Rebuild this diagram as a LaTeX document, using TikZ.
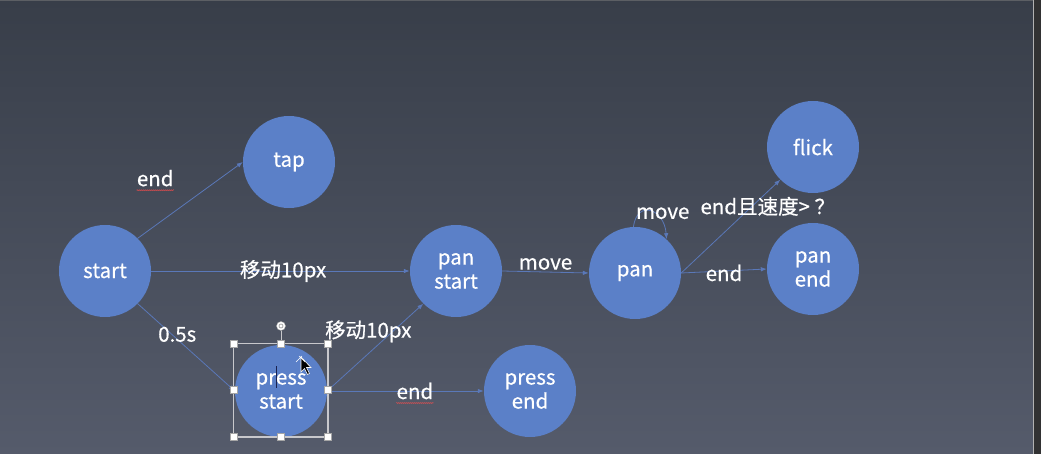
\documentclass[tikz,border=0pt]{standalone}
\usepackage{fontspec}
\setmainfont{Noto Sans CJK SC}
\newfontfamily\lblfont{Noto Sans CJK SC}[FakeBold=0.5]
\usetikzlibrary{arrows.meta,decorations.pathmorphing}
\definecolor{bgtop}{HTML}{383E49}
\definecolor{bgbot}{HTML}{555B6B}
\definecolor{circ}{HTML}{5B80C8}
\definecolor{edgec}{HTML}{5A78B8}
\definecolor{selc}{HTML}{C8C8CC}
\definecolor{stripc}{HTML}{323233}
\definecolor{caretc}{HTML}{1A2250}
\tikzset{
  state/.style={circle, fill=circ, minimum size=92pt, inner sep=0pt, text=white, align=center,
    font=\lblfont\fontsize{20.5}{24}\selectfont},
  conn/.style={draw=edgec, line width=0.8pt, -{Latex[length=6pt,width=4.5pt]}},
  lbl/.style={text=white, inner sep=0pt, font=\lblfont\fontsize{20.5}{24}\selectfont},
  wavy/.style={draw=red!70!white, line width=0.35pt, decorate, decoration={snake, amplitude=0.6pt, segment length=2pt}},
  handle/.style={fill=white, draw=gray!70, line width=0.4pt, minimum size=7pt, inner sep=0pt, rectangle},
}
\begin{document}
\begin{tikzpicture}[x=1pt,y=-1pt]
\useasboundingbox (0,0) rectangle (1041,454);
% background
\shade[top color=bgtop, bottom color=bgbot] (0,0) rectangle (1033,454);
\fill[stripc] (1033,0) rectangle (1041,454);
\draw[draw=gray!60, line width=1pt] (1033.5,0) -- (1033.5,454);
\draw[draw=gray!50!bgtop, line width=1.5pt] (0,0.75) -- (1033,0.75);

% nodes
\node[state] (start) at (105,271) {start};
\node[state] (tap) at (289,162) {tap};
\node[state] (pressstart) at (281,391) {press\\start};
\node[state] (panstart) at (456,271) {pan\\start};
\node[state] (pan) at (635,273) {pan};
\node[state] (flick) at (813,147) {flick};
\node[state] (panend) at (813,269) {pan\\end};
\node[state] (pressend) at (530,391) {press\\end};

% connectors
\draw[conn] (start.45) -- node[lbl, pos=0.5, xshift=-35pt, yshift=22pt] (l1) {end} (tap.west);
\draw[conn] (start.east) -- node[lbl, pos=0.51] (l2) {移动10px} (panstart.west);
\draw[conn] (start.-45) -- node[lbl, pos=0.5, xshift=-9pt, yshift=13pt] (l3) {0.5s} (pressstart.west);
\draw[conn] (pressstart.east) -- node[lbl, pos=0.5, xshift=-7pt, yshift=16pt] (l4) {移动10px} (panstart.-135);
\draw[conn] (pressstart.east) -- node[lbl, pos=0.56] (l5) {end} (pressend.west);
\draw[conn] (panstart.east) -- node[lbl, pos=0.5, yshift=8pt] (l6) {move} (pan.west);
\draw[conn] (pan.east) -- node[lbl, pos=0.5, yshift=-2pt] (l7) {end} (panend.west);
\draw[conn] (pan.east) -- node[lbl, pos=0.5, xshift=37pt, yshift=20pt] (l8) {end且速度> ？} (flick.-135);
\draw[conn] (pan.92) .. controls +(4,-28) and +(-2,-30) .. node[lbl, pos=0.5, xshift=12pt, yshift=-2pt] (l9) {move} (pan.47);

% spell-check underlines
\draw[wavy] ([yshift=-4pt]l1.base west) -- ([yshift=-4pt]l1.base east);
\draw[wavy] ([yshift=-4pt]l5.base west) -- ([yshift=-4pt]l5.base east);

% selection frame around press start
\coordinate (sa) at (233.5,343.5);
\coordinate (sb) at (328,437);
\draw[selc, line width=1.2pt] (sa) rectangle (sb);
\draw[selc, line width=1pt] (281,331) -- (281,343.5);
\node[circle, fill=white, draw=gray!70, minimum size=9pt, inner sep=0pt] (rot) at (281,326) {};
\node[circle, draw=gray!70, line width=0.8pt, minimum size=4pt, inner sep=0pt] at (rot) {};
\foreach \p in {(233.5,343.5),(281,343.5),(328,343.5),(233.5,390),(328,390),(233.5,437),(281,437),(328,437)}
  \node[handle] at \p {};
% text caret
\draw[caretc, line width=1.6pt] (276.5,366) -- (276.5,388);
% mouse pointer
\filldraw[fill=black, draw=white, line width=0.6pt] (301,357) -- (301,372) -- (304.5,368.5) -- (307.5,374.5) -- (309.5,373.5) -- (306.5,367.5) -- (311,367.5) -- cycle;
\draw[white, line width=0.6pt] (296,362) -- (302,356) (299,356) -- (305,362);
\end{tikzpicture}
\end{document}
